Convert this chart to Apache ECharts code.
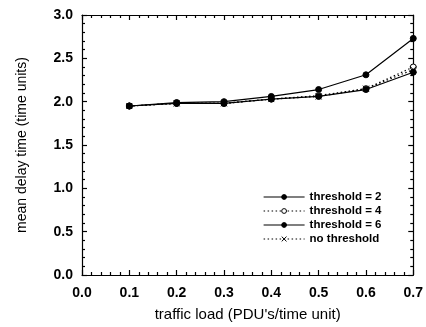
<!DOCTYPE html>
<html>
<head>
<meta charset="utf-8">
<script src="https://cdn.jsdelivr.net/npm/echarts@6/dist/echarts.min.js"></script>
<style>
  html, body { margin: 0; padding: 0; background: #fff; }
  #chart { width: 426px; height: 327px; }
</style>
</head>
<body>
<div id="chart"></div>
<script>
// traffic load on x, mean delay on y
const loads = [0.1, 0.2, 0.3, 0.4, 0.5, 0.6, 0.7]
const thr2 = [1.95, 1.99, 2.00, 2.06, 2.14, 2.31, 2.73]
const thr4 = [1.95, 1.98, 1.98, 2.03, 2.07, 2.15, 2.40]
const thr6 = [1.95, 1.98, 1.98, 2.03, 2.06, 2.14, 2.34]
const noThr = [1.95, 1.98, 1.98, 2.03, 2.06, 2.15, 2.37]
const names = ['threshold = 2', 'threshold = 4', 'threshold = 6', 'no threshold']

const font = 'Liberation Sans, Arial, sans-serif'
const xMark = 'path://M-1,-1L1,1M1,-1L-1,1'
const dots = [1.5, 2.5]
const pairs = ys => loads.map((x, i) => [x, ys[i]])

const mkSeries = (name, ys, symbol, type, fill) => ({
  name,
  type: 'line',
  data: pairs(ys),
  symbol,
  symbolSize: 6,
  lineStyle: { color: '#000', width: 1.2, type },
  itemStyle: { color: fill, borderColor: '#000', borderWidth: 1 },
  emphasis: { disabled: true }
})

const legendItem = (name, type, fill) => ({
  name,
  lineStyle: { color: '#000', width: 1.2, type },
  itemStyle: { color: fill, borderColor: '#000', borderWidth: 1 }
})

const tickStyle = { color: '#000', width: 1.2 }
const mkAxis = extra => Object.assign({
  type: 'value',
  axisLine: { show: true, onZero: false, lineStyle: { color: '#000', width: 1.2 } },
  axisTick: { show: true, inside: true, length: 5, lineStyle: tickStyle },
  minorTick: { show: true, splitNumber: 5, length: 3, lineStyle: tickStyle },
  splitLine: { show: false },
  minorSplitLine: { show: false }
}, extra)

const chart = echarts.init(document.getElementById('chart'))
chart.setOption({
  animation: false,
  grid: { left: 82, right: 11, top: 15, bottom: 52 },
  legend: {
    left: 258,
    top: 186,
    orient: 'vertical',
    itemWidth: 41,
    itemHeight: 6,
    itemGap: 2,
    textStyle: { fontFamily: font, fontSize: 11.5, fontWeight: 'bold', color: '#000' },
    data: [
      legendItem(names[0], 'solid', '#000'),
      legendItem(names[1], dots, '#fff'),
      legendItem(names[2], 'solid', '#000'),
      legendItem(names[3], dots, '#000')
    ]
  },
  xAxis: [
    mkAxis({
      min: 0, max: 0.7, interval: 0.1,
      name: "traffic load (PDU's/time unit)",
      nameLocation: 'middle',
      nameGap: 32,
      nameTextStyle: { fontFamily: font, fontSize: 15, color: '#000' },
      axisLabel: { fontFamily: font, fontSize: 14, fontWeight: 'bold', color: '#000', margin: 11,
        formatter: v => v.toFixed(1) }
    }),
    mkAxis({
      position: 'top', min: 0, max: 0.7, interval: 0.1,
      axisLabel: { show: false }
    })
  ],
  yAxis: [
    mkAxis({
      min: 0, max: 3, interval: 0.5,
      name: 'mean delay time (time units)',
      nameLocation: 'middle',
      nameGap: 53,
      nameTextStyle: { fontFamily: font, fontSize: 14, color: '#000' },
      axisLabel: { fontFamily: font, fontSize: 14, fontWeight: 'bold', color: '#000', margin: 9,
        formatter: v => v.toFixed(1) }
    }),
    mkAxis({
      position: 'right', min: 0, max: 3, interval: 0.5,
      axisLabel: { show: false }
    })
  ],
  series: [
    mkSeries(names[0], thr2, 'circle', 'solid', '#000'),
    mkSeries(names[1], thr4, 'circle', dots, '#fff'),
    mkSeries(names[2], thr6, 'circle', 'solid', '#000'),
    mkSeries(names[3], noThr, xMark, dots, '#000')
  ]
})
</script>
</body>
</html>
